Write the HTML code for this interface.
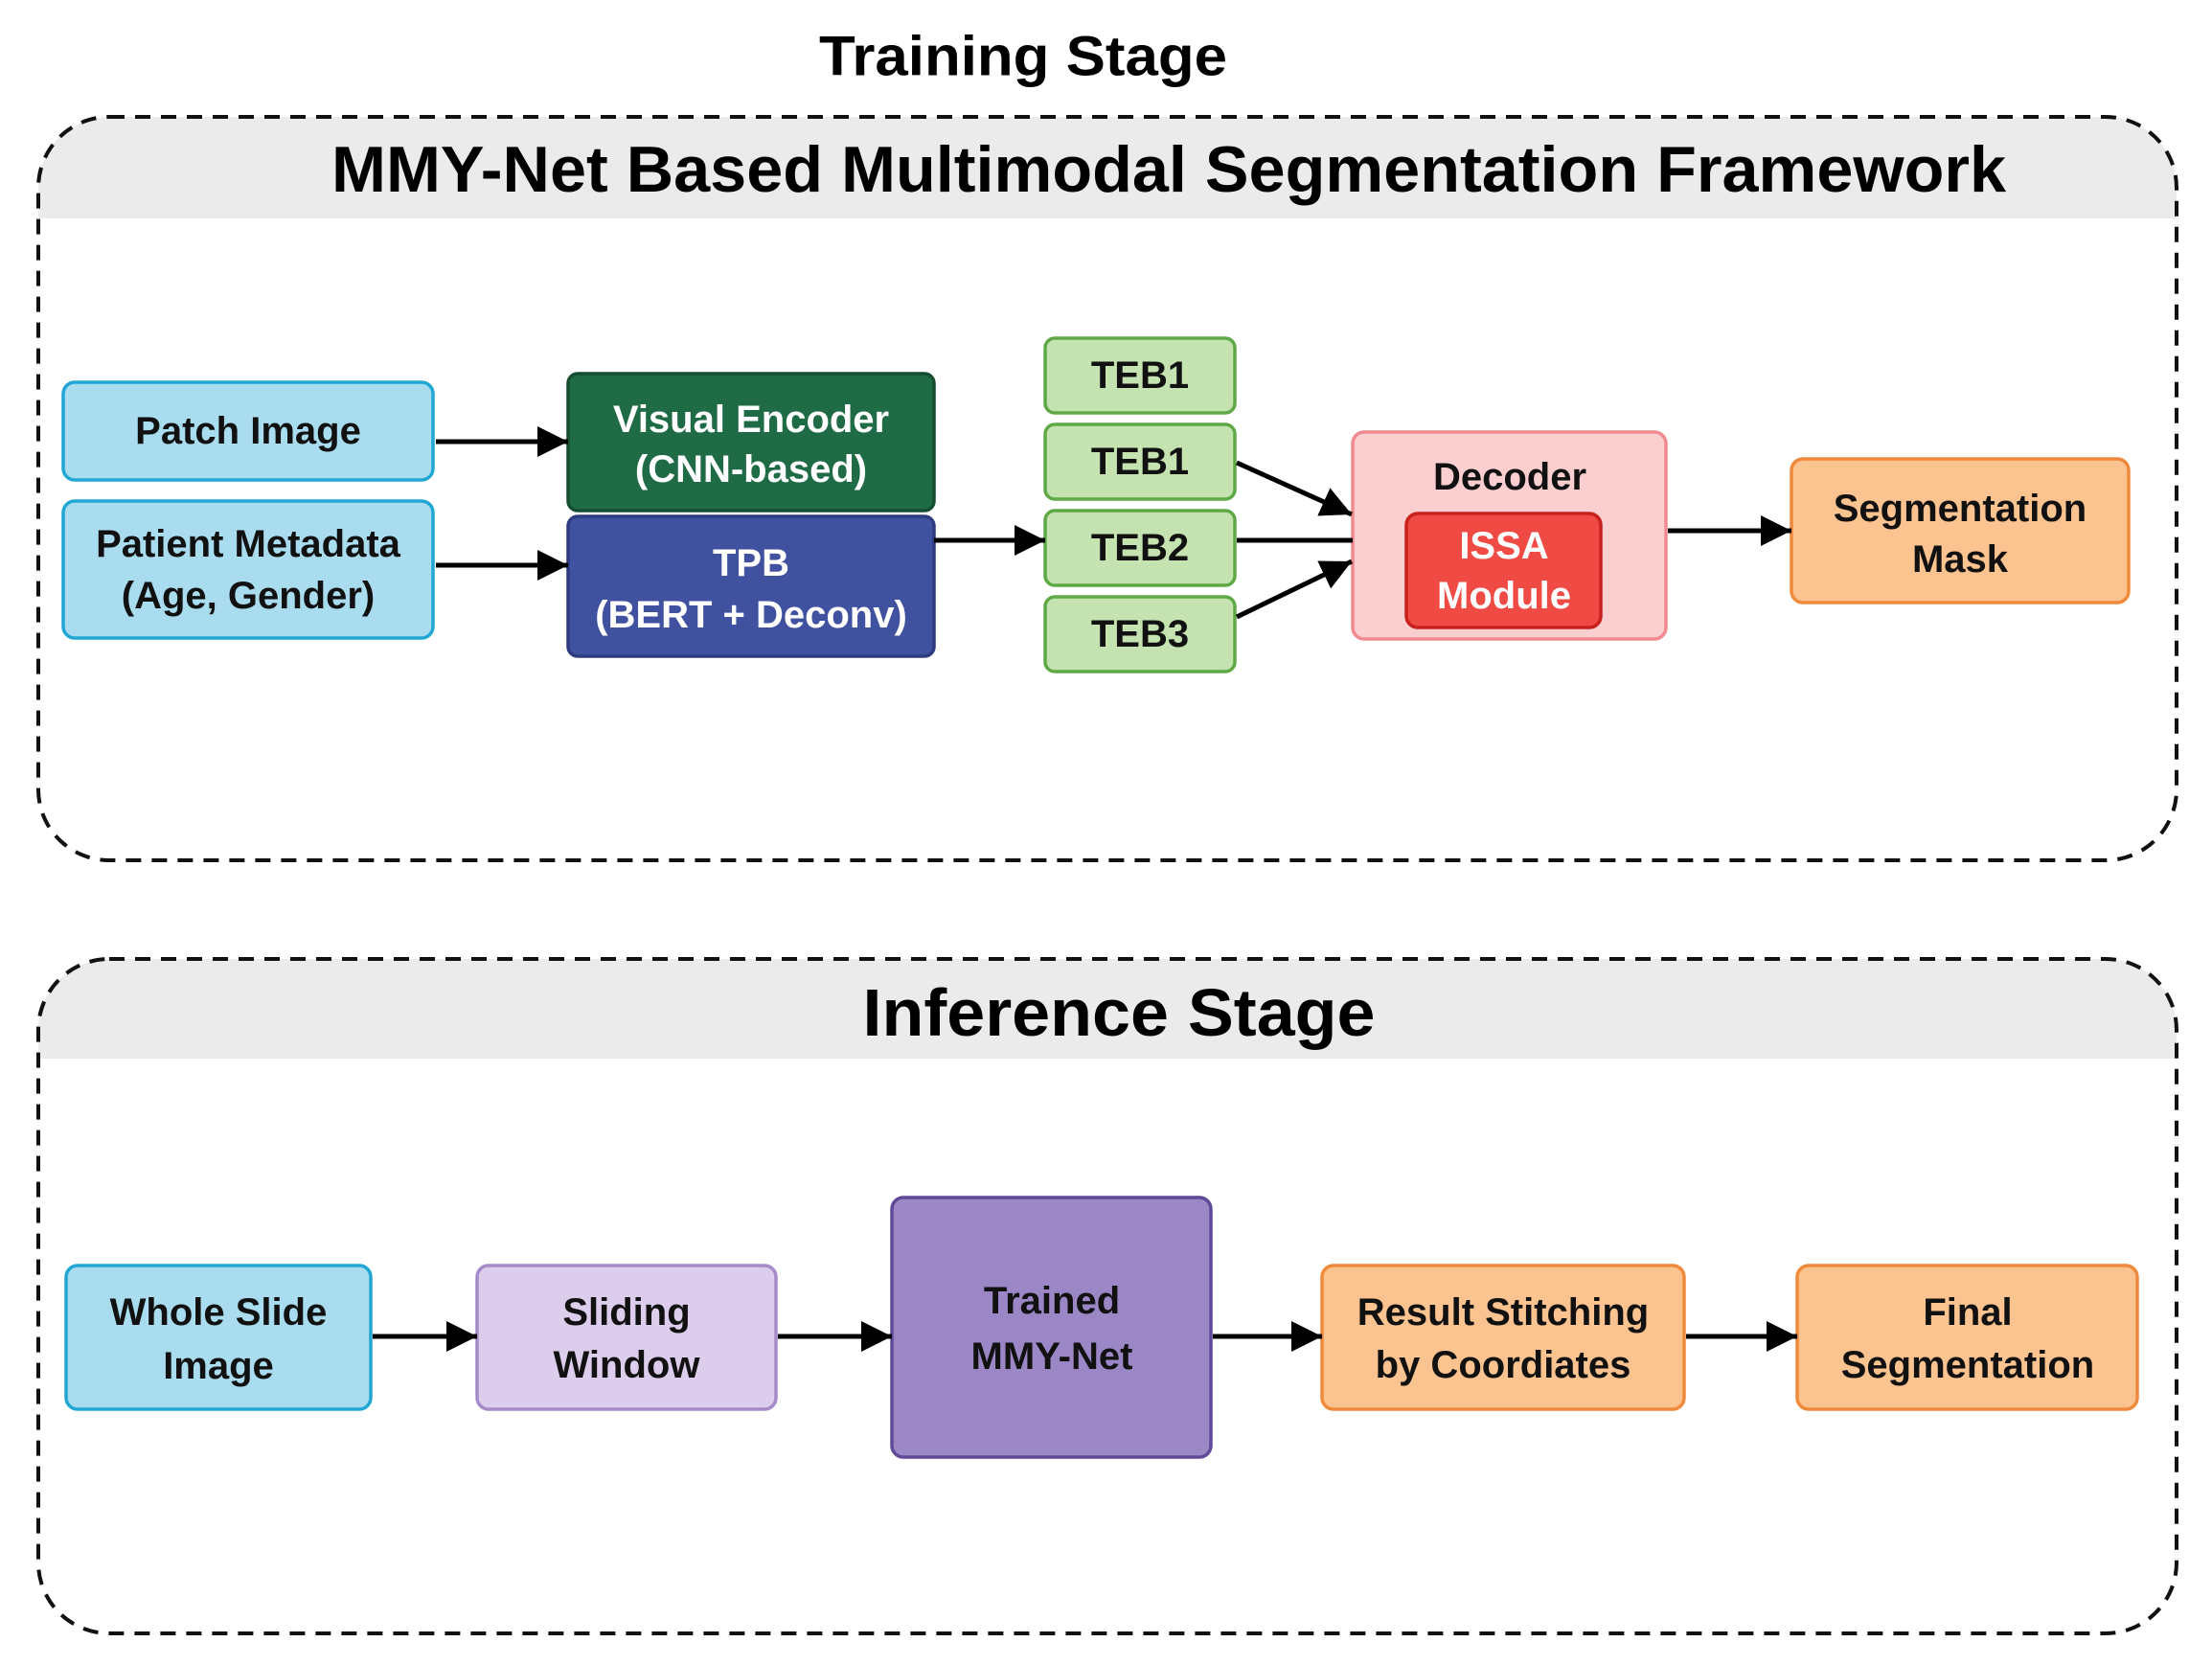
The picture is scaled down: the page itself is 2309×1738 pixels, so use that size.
<!DOCTYPE html>
<html><head><meta charset="utf-8"><style>
html,body{margin:0;padding:0;background:#fff;}
svg{display:block;}
text{font-family:"Liberation Sans",Arial,sans-serif;font-weight:bold;text-anchor:middle;dominant-baseline:central;}
</style></head><body>
<svg width="2309" height="1738" viewBox="0 0 2309 1738" xmlns="http://www.w3.org/2000/svg">
<defs>
<marker id="ah" markerWidth="10" markerHeight="10" refX="9" refY="5" orient="auto" markerUnits="userSpaceOnUse" viewBox="0 0 10 10" >
<path d="M0,0 L10,5 L0,10 z" fill="#000"/></marker>
<marker id="a" viewBox="0 0 10 10" refX="10" refY="5" markerWidth="32" markerHeight="32" markerUnits="userSpaceOnUse" orient="auto"><path d="M0,0 L10,5 L0,10 z" fill="#000"/></marker>
<clipPath id="c1"><rect x="40" y="122" width="2232" height="776" rx="74"/></clipPath>
<clipPath id="c2"><rect x="40" y="1001" width="2232" height="704" rx="74"/></clipPath>
</defs>
<rect width="2309" height="1738" fill="#fff"/>
<text x="1068" y="59" font-size="58" textLength="426" lengthAdjust="spacingAndGlyphs">Training Stage</text>

<!-- top panel -->
<rect x="40" y="122" width="2232" height="106" fill="#ebebeb" clip-path="url(#c1)"/>
<rect x="40" y="122" width="2232" height="776" rx="74" fill="none" stroke="#111" stroke-width="4" stroke-dasharray="16,11"/>
<text x="1220" y="177" font-size="68" textLength="1748" lengthAdjust="spacingAndGlyphs">MMY-Net Based Multimodal Segmentation Framework</text>

<g stroke-width="3.5">
<rect x="66" y="399" width="386" height="102" rx="12" fill="#a8dcee" stroke="#22a6d3"/>
<rect x="66" y="523" width="386" height="143" rx="12" fill="#a8dcee" stroke="#22a6d3"/>
<rect x="593" y="390" width="382" height="143" rx="10" fill="#1f6b45" stroke="#154d31"/>
<rect x="593" y="539" width="382" height="146" rx="10" fill="#40519f" stroke="#2d3a80"/>
<rect x="1091" y="353" width="198" height="78" rx="10" fill="#c4e3b0" stroke="#5ea845"/>
<rect x="1091" y="443" width="198" height="78" rx="10" fill="#c4e3b0" stroke="#5ea845"/>
<rect x="1091" y="533" width="198" height="78" rx="10" fill="#c4e3b0" stroke="#5ea845"/>
<rect x="1091" y="623" width="198" height="78" rx="10" fill="#c4e3b0" stroke="#5ea845"/>
<rect x="1412" y="451" width="327" height="216" rx="12" fill="#fbcfd0" stroke="#ef8a8f"/>
<rect x="1468" y="536" width="203" height="119" rx="12" fill="#f04a44" stroke="#c8201c"/>
<rect x="1870" y="479" width="352" height="150" rx="12" fill="#fbc38f" stroke="#ef8a3c"/>
</g>
<g font-size="40" fill="#111">
<text x="259" y="450">Patch Image</text>
<text x="259" y="568">Patient Metadata</text>
<text x="259" y="622">(Age, Gender)</text>
<text x="784" y="438" fill="#fff">Visual Encoder</text>
<text x="784" y="490" fill="#fff">(CNN-based)</text>
<text x="784" y="588" fill="#fff">TPB</text>
<text x="784" y="642" fill="#fff">(BERT + Deconv)</text>
<text x="1190" y="392">TEB1</text>
<text x="1190" y="482">TEB1</text>
<text x="1190" y="572">TEB2</text>
<text x="1190" y="662">TEB3</text>
<text x="1576" y="498">Decoder</text>
<text x="1570" y="570" fill="#fff">ISSA</text>
<text x="1570" y="622" fill="#fff">Module</text>
<text x="2046" y="531">Segmentation</text>
<text x="2046" y="584">Mask</text>
</g>
<g stroke="#000" stroke-width="5" fill="none">
<line x1="455" y1="461" x2="593" y2="461" marker-end="url(#a)"/>
<line x1="455" y1="590" x2="593" y2="590" marker-end="url(#a)"/>
<line x1="975" y1="564" x2="1091" y2="564" marker-end="url(#a)"/>
<line x1="1291" y1="483" x2="1411" y2="537" marker-end="url(#a)"/>
<line x1="1291" y1="564" x2="1412" y2="564"/>
<line x1="1291" y1="644" x2="1411" y2="586" marker-end="url(#a)"/>
<line x1="1741" y1="554" x2="1870" y2="554" marker-end="url(#a)"/>
</g>

<!-- bottom panel -->
<rect x="40" y="1001" width="2232" height="104" fill="#ebebeb" clip-path="url(#c2)"/>
<rect x="40" y="1001" width="2232" height="704" rx="74" fill="none" stroke="#111" stroke-width="4" stroke-dasharray="16,11"/>
<text x="1168" y="1057" font-size="70" textLength="535" lengthAdjust="spacingAndGlyphs">Inference Stage</text>

<g stroke-width="3.5">
<rect x="69" y="1321" width="318" height="150" rx="12" fill="#a8dcee" stroke="#22a6d3"/>
<rect x="498" y="1321" width="312" height="150" rx="12" fill="#dccdec" stroke="#a68bc9"/>
<rect x="931" y="1250" width="333" height="271" rx="12" fill="#9b87c6" stroke="#5f4a98"/>
<rect x="1380" y="1321" width="378" height="150" rx="12" fill="#fbc38f" stroke="#ef8a3c"/>
<rect x="1876" y="1321" width="355" height="150" rx="12" fill="#fbc38f" stroke="#ef8a3c"/>
</g>
<g font-size="40" fill="#111">
<text x="228" y="1370">Whole Slide</text>
<text x="228" y="1426">Image</text>
<text x="654" y="1370">Sliding</text>
<text x="654" y="1425">Window</text>
<text x="1098" y="1358">Trained</text>
<text x="1098" y="1416">MMY-Net</text>
<text x="1569" y="1370">Result Stitching</text>
<text x="1569" y="1425">by Coordiates</text>
<text x="2054" y="1370">Final</text>
<text x="2054" y="1425">Segmentation</text>
</g>
<g stroke="#000" stroke-width="5" fill="none">
<line x1="389" y1="1395" x2="498" y2="1395" marker-end="url(#a)"/>
<line x1="812" y1="1395" x2="931" y2="1395" marker-end="url(#a)"/>
<line x1="1266" y1="1395" x2="1380" y2="1395" marker-end="url(#a)"/>
<line x1="1760" y1="1395" x2="1876" y2="1395" marker-end="url(#a)"/>
</g>
</svg>
</body></html>
